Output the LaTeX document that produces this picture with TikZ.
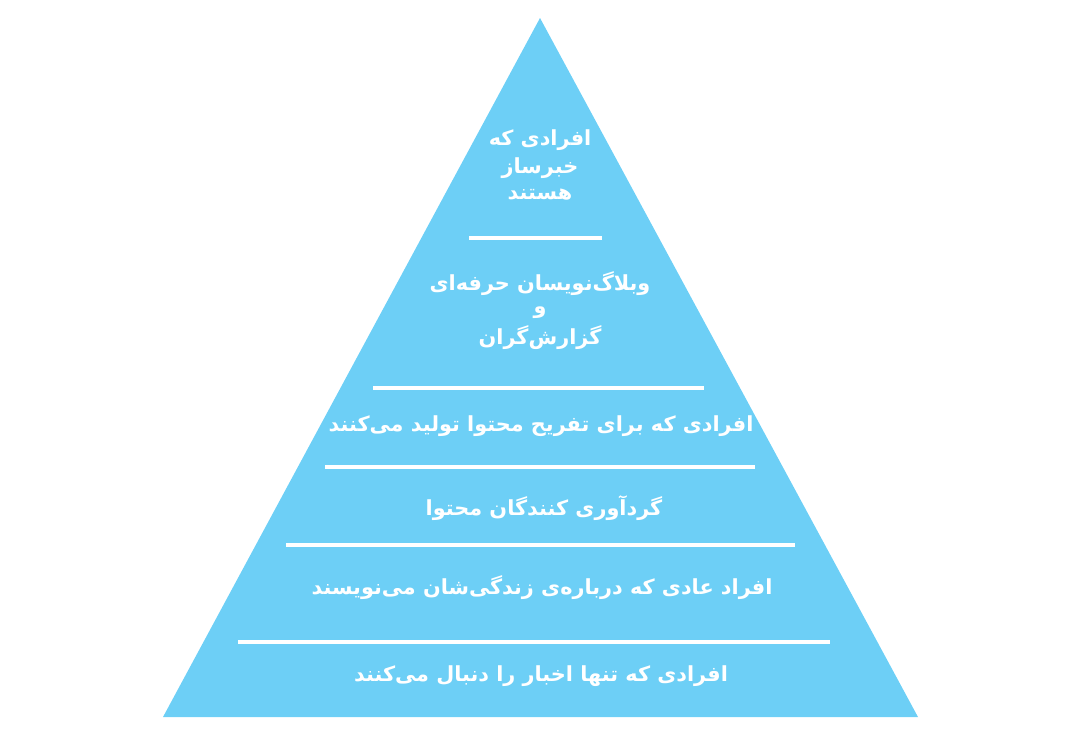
\documentclass[tikz,border=0pt]{standalone}
\usepackage{fontspec}
\TeXXeTstate=1
\newfontfamily\fa[Script=Arabic]{DejaVu Sans}
\definecolor{pyr}{HTML}{6DCFF6}
\tikzset{
  sep/.style={draw=white, line width=3.5pt},
  lbl/.style={text=white, font=\fa\bfseries\fontsize{20.8}{24}\selectfont, inner sep=0pt, anchor=center},
}
\begin{document}
\begin{tikzpicture}[x=1pt,y=-1pt]
\useasboundingbox (0,0) rectangle (1080,732);
\fill[pyr] (540,18) -- (918,717) -- (163,717) -- cycle;
\coordinate (a1) at (469,238); \coordinate (b1) at (602,238);
\coordinate (a2) at (373,388); \coordinate (b2) at (704,388);
\coordinate (a3) at (325,467); \coordinate (b3) at (755,467);
\coordinate (a4) at (286,545); \coordinate (b4) at (795,545);
\coordinate (a5) at (238,642); \coordinate (b5) at (830,642);
\draw[sep] (a1) -- (b1);
\draw[sep] (a2) -- (b2);
\draw[sep] (a3) -- (b3);
\draw[sep] (a4) -- (b4);
\draw[sep] (a5) -- (b5);
\node[lbl] (t1a) at (540,140) {\beginR افرادی که\endR};
\node[lbl] (t1b) at (540,168) {\beginR خبرساز\endR};
\node[lbl] (t1c) at (540,195) {\beginR هستند\endR};
\node[lbl] (t2a) at (540,284) {\beginR وبلاگ^^^^200cنویسان حرفه^^^^200cای\endR};
\node[lbl] (t2b) at (540,313) {\beginR و\endR};
\node[lbl] (t2c) at (540,338) {\beginR گزارش^^^^200cگران\endR};
\node[lbl] (t3) at (541,426) {\beginR افرادی که برای تفریح محتوا تولید می^^^^200cکنند\endR};
\node[lbl] (t4) at (544,508) {\beginR گردآوری کنندگان محتوا\endR};
\node[lbl] (t5) at (542,588) {\beginR افراد عادی که درباره^^^^200cی زندگی^^^^200cشان می^^^^200cنویسند\endR};
\node[lbl] (t6) at (541,676) {\beginR افرادی که تنها اخبار را دنبال می^^^^200cکنند\endR};
\end{tikzpicture}
\end{document}
